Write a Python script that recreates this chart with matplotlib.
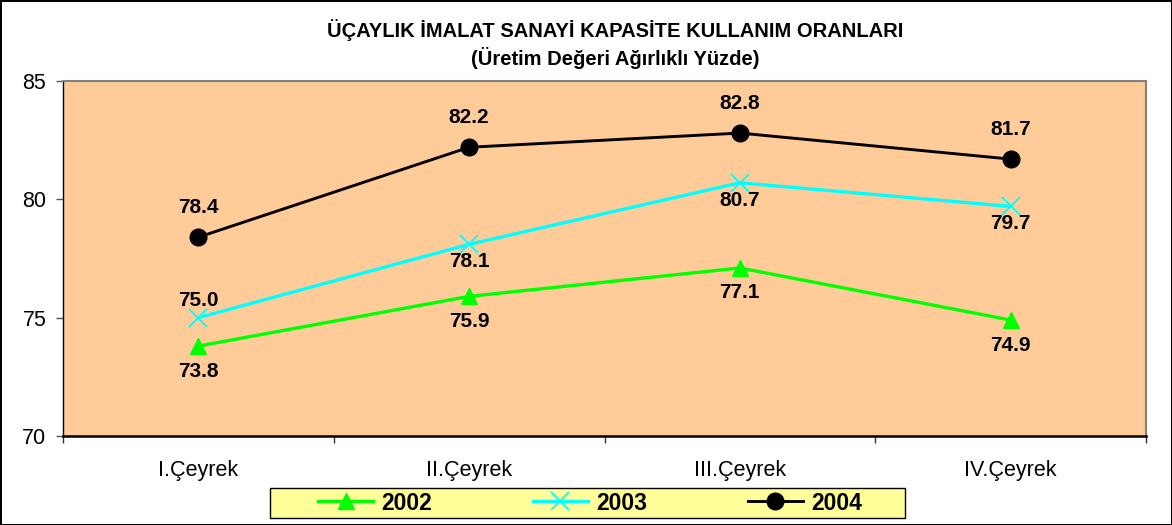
import numpy as np
import matplotlib.pyplot as plt
from matplotlib.patches import Rectangle

plt.rcParams['font.family'] = ['Liberation Sans', 'DejaVu Sans']

quarters = ['I.Çeyrek', 'II.Çeyrek', 'III.Çeyrek', 'IV.Çeyrek']
y2002 = [73.8, 75.9, 77.1, 74.9]
y2003 = [75.0, 78.1, 80.7, 79.7]
y2004 = [78.4, 82.2, 82.8, 81.7]

W, H = 1172, 525
fig = plt.figure(figsize=(W / 100, H / 100), dpi=100)
fig.patch.set_facecolor('white')
fig.patch.set_edgecolor('black')
fig.patch.set_linewidth(2)

ax = fig.add_axes([63 / W, 1 - 436 / H, (1146 - 63) / W, (436 - 81) / H])
ax.set_facecolor('#FFCC99')

x = np.arange(len(quarters))
l1, = ax.plot(x, y2002, color='#00FF00', lw=2.4, marker='^', ms=11, label='2002')
l2, = ax.plot(x, y2003, color='#00FFFF', lw=2.4, marker='x', ms=13, mew=1.3, label='2003')
l3, = ax.plot(x, y2004, color='black', lw=2.1, marker='o', ms=12, label='2004')

lab = dict(ha='center', va='center', fontsize=15, fontweight='bold',
           textcoords='offset points')
for i, v in enumerate(y2004):
    ax.annotate(f'{v:.1f}', (x[i], v), xytext=(0, 21.5), **lab)
for i, v in enumerate(y2003):
    dy = 12.5 if i == 0 else -12.5
    ax.annotate(f'{v:.1f}', (x[i], v), xytext=(0, dy), **lab)
for i, v in enumerate(y2002):
    ax.annotate(f'{v:.1f}', (x[i], v), xytext=(0, -18), **lab)

ax.set_xlim(-0.5, 3.5)
ax.set_ylim(70, 85)
ax.set_yticks([70, 75, 80, 85])
ax.set_xticks(x)
ax.set_xticklabels(quarters, fontsize=15.5)
ax.tick_params(axis='y', labelsize=15.5, direction='out', length=5, width=1,
               color='#555555', pad=7)
ax.set_xticks([-0.5, 0.5, 1.5, 2.5, 3.5], minor=True)
ax.tick_params(axis='x', which='major', length=0, pad=17)
ax.tick_params(axis='x', which='minor', direction='out', length=5, width=1,
               color='#333333')

for s in ['top', 'right']:
    ax.spines[s].set_color('#808080')
    ax.spines[s].set_linewidth(1.5)
ax.spines['left'].set_color('black')
ax.spines['left'].set_linewidth(1)
ax.spines['bottom'].set_color('black')
ax.spines['bottom'].set_linewidth(1.8)

fig.text(615 / W, 1 - 30 / H, 'ÜÇAYLIK İMALAT SANAYİ KAPASİTE KULLANIM ORANLARI',
         ha='center', va='center', fontsize=14.5, fontweight='bold')
fig.text(615 / W, 1 - 58 / H, '(Üretim Değeri Ağırlıklı Yüzde)',
         ha='center', va='center', fontsize=14.5, fontweight='bold')

# legend box (Excel style, wider than its contents)
fig.patches.append(Rectangle((270 / W, 1 - 518 / H), (905 - 270) / W, 30 / H,
                             transform=fig.transFigure, facecolor='#FFFF99',
                             edgecolor='black', lw=1, zorder=1))
leg = fig.legend(handles=[l1, l2, l3], loc='center',
                 bbox_to_anchor=(590 / W, 1 - 503 / H), ncol=3,
                 prop={'size': 16.5, 'weight': 'bold'}, frameon=False,
                 handlelength=2.4, columnspacing=4.4, borderpad=0.2,
                 handletextpad=0.35)
leg.set_zorder(2)

fig.savefig('out.png', dpi=100, edgecolor=fig.get_edgecolor())
